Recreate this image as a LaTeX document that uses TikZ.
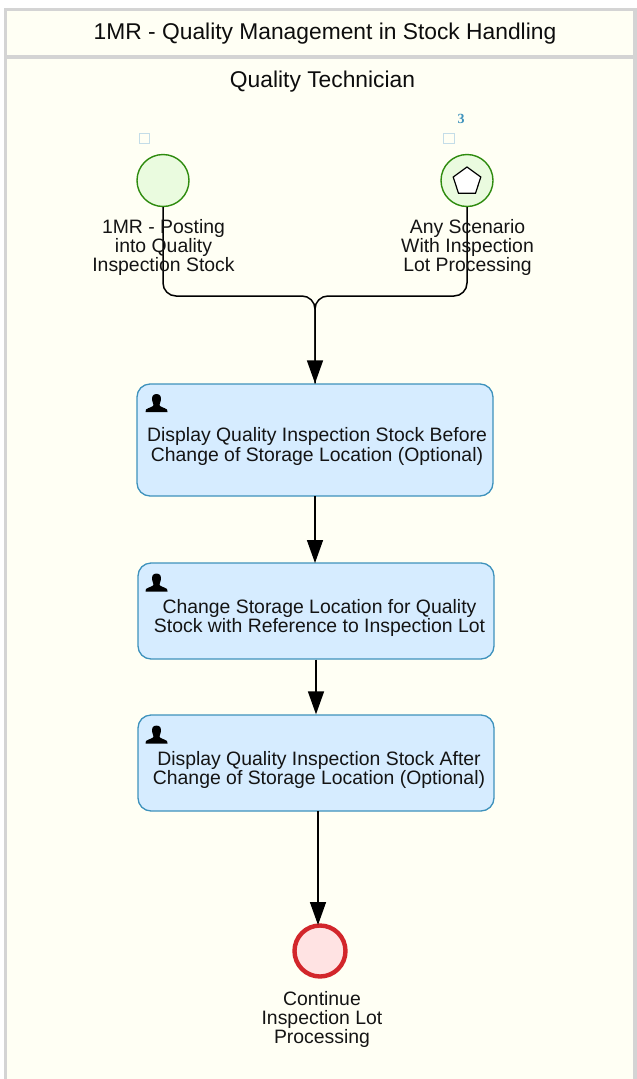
\documentclass[tikz,border=0pt]{standalone}
\usepackage{fontspec}
\setmainfont{Liberation Sans}
\newfontfamily\numfont{Liberation Serif}
\usetikzlibrary{arrows.meta,shapes.geometric}
\definecolor{laneBg}{HTML}{FFFFF4}
\definecolor{laneLine}{HTML}{D4D4D4}
\definecolor{startFill}{HTML}{EAFBDF}
\definecolor{startLine}{HTML}{2E8B0E}
\definecolor{taskFill}{HTML}{D6ECFF}
\definecolor{taskLine}{HTML}{3E92BC}
\definecolor{endFill}{HTML}{FFE3E3}
\definecolor{endLine}{HTML}{D2262B}
\definecolor{markLine}{HTML}{C4DDE8}
\tikzset{
  x=1pt,y=-1pt,
  txt/.style={font=\fontsize{19.4}{19.3}\selectfont,align=center,text=black!92,inner sep=0pt},
  head/.style={font=\fontsize{22.8}{24}\selectfont,align=center,text=black!95,inner sep=0pt},
  taskbox/.style={draw=taskLine,fill=taskFill,line width=1.3pt,rounded corners=13pt,minimum width=356pt,inner sep=0pt},
  startev/.style={circle,draw=startLine,fill=startFill,line width=1.4pt,minimum size=52pt,inner sep=0pt},
  endev/.style={circle,draw=endLine,fill=endFill,line width=4.4pt,minimum size=51pt,inner sep=0pt},
  flow/.style={draw=black,line width=1.5pt,rounded corners=13pt},
  flowtip/.style={draw=black,line width=1.5pt,-{Triangle[length=23pt,width=16pt]}},
  markbox/.style={draw=markLine,line width=1.4pt,minimum size=10.5pt,inner sep=0pt},
  person/.pic={\fill[black] (0,0) .. controls (-4,0) and (-5,3.5) .. (-4.3,6.5) .. controls (-4,8.5) and (-3.2,9.5) .. (-3,11) .. controls (-3,13) and (-8,13.5) .. (-10.5,15.5) -- (-11,18) -- (11,18) -- (10.5,15.5) .. controls (8,13.5) and (3,13) .. (3,11) .. controls (3.2,9.5) and (4,8.5) .. (4.3,6.5) .. controls (5,3.5) and (4,0) .. (0,0) -- cycle;}
}
\begin{document}
\begin{tikzpicture}
\useasboundingbox (0,0) rectangle (637,1079);
\fill[white] (0,0) rectangle (637,1079);
\fill[laneBg] (5.5,9.5) rectangle (635,1079);
\draw[laneLine,line width=3.2pt] (5.5,1079) -- (5.5,9.5) -- (635,9.5) -- (635,1079);
\draw[laneLine,line width=3.2pt] (5.5,57) -- (635,57);
\node[head] (title) at (325,33.5) {1MR - Quality Management in Stock Handling};
\node[head] (lane) at (322.5,82) {Quality Technician};

\node[startev] (s1) at (163,180.5) {};
\node[startev] (s2) at (467,180.5) {};
\node[regular polygon,regular polygon sides=5,draw=black,fill=white,line width=1.2pt,minimum size=29pt,inner sep=0pt] (pent) at (467,181.5) {};
\node[markbox] (m1) at (144.5,138.5) {};
\node[markbox] (m2) at (449,138.5) {};
\node[font=\fontsize{14}{14}\selectfont\numfont\bfseries,text=taskLine,inner sep=0pt] (three) at (461,118.5) {3};

\node[taskbox,minimum height=112pt] (t1) at (315,440) {};
\node[taskbox,minimum height=96pt] (t2) at (316,611) {};
\node[taskbox,minimum height=96pt] (t3) at (316,763) {};
\node[endev] (e) at (320,951) {};

\coordinate (j) at (315,296);
\coordinate (t1in) at (t1.north);
\coordinate (t1out) at (315,496);
\coordinate (t2in) at (315,563);
\coordinate (t3out) at (318,811);
\coordinate (ein) at (318,925);
\draw[flow,-{Triangle[length=23pt,width=16pt]}] (s1.south) |- (j) -- (t1in);
\draw[flow] (s2.south) |- (j) -- (t1in);
\draw[flowtip] (t1out) -- (t2in);
\draw[flowtip] (t2.south) -- (t3.north);
\draw[flowtip] (t3out) -- (ein);

\node[txt] (ls1) at (163.5,247.5) {1MR - Posting\\into Quality\\Inspection Stock};
\node[txt] (ls2) at (467.5,247.5) {Any Scenario\\With Inspection\\Lot Processing};
\node[txt] (lt1) at (317,446.5) {Display Quality Inspection Stock Before\\Change of Storage Location (Optional)};
\node[txt] (lt2) at (319.5,618) {Change Storage Location for Quality\\Stock with Reference to Inspection Lot};
\node[txt] (lt3) at (319,770) {Display Quality Inspection Stock After\\Change of Storage Location (Optional)};
\node[txt] (le) at (322,1019.5) {Continue\\Inspection Lot\\Processing};

\pic at (156.5,394) {person};
\pic at (156.5,573.5) {person};
\pic at (156.5,725.5) {person};
\end{tikzpicture}
\end{document}
